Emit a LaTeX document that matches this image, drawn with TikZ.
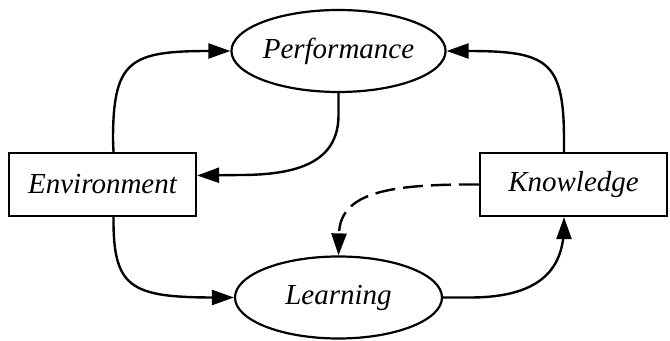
\documentclass[tikz,border=0pt]{standalone}
\usepackage{fontspec}
\setmainfont{Liberation Serif}
\usetikzlibrary{shapes.geometric,arrows.meta}
\begin{document}
\begin{tikzpicture}[x=0.5pt,y=-0.5pt,
  font=\fontsize{14.5}{16}\selectfont\itshape,
  oval/.style={ellipse,draw,line width=1.1pt,minimum width=103.5pt,minimum height=41pt,inner sep=0pt},
  box/.style={rectangle,draw,line width=1.1pt,minimum width=93.5pt,minimum height=31.5pt,inner sep=0pt},
  conn/.style={line width=1.2pt,-{Triangle[length=11pt,width=7.5pt]}},
  dashconn/.style={conn,dash pattern=on 10pt off 4pt}]
\useasboundingbox (0,0) rectangle (670,341);
\node[oval] (perf) at (338.5,51) {Performance};
\node[oval] (learn) at (338.5,297.5) {Learning};
\node[box] (env) at (102.5,184.5) {Environment};
\node[box] (know) at (573.5,184.5) {Knowledge};
\coordinate (envN) at ([xshift=5.5pt]env.north);
\coordinate (envS) at ([xshift=5.5pt]env.south);
\coordinate (knowN) at ([xshift=-4.75pt]know.north);
\coordinate (knowS) at ([xshift=-4.75pt]know.south);
\coordinate (envE) at ([yshift=4.5pt]env.east);
% Environment -> Performance
\draw[conn] (envN) -- (113,140) .. controls (113,60) and (130,51) .. (210,51) -- (perf.west);
% Environment -> Learning
\draw[conn] (envS) .. controls (113,287) and (130,297) .. (210,297.5) -- (learn.west);
% Knowledge -> Performance
\draw[conn] (knowN) -- (564,140) .. controls (564,60) and (547,51) .. (467,51) -- (perf.east);
% Learning -> Knowledge
\draw[conn] (learn.east) -- (470,297.5) .. controls (545,297.5) and (564,265) .. (564,225) -- (knowS);
% Performance -> Environment
\draw[conn] (perf.south) -- (338.5,115) .. controls (338.5,162) and (298,175) .. (240,175) -- (envE);
% Knowledge -> Learning (dashed)
\draw[dashconn] (know.west) .. controls (390,184) and (340,192) .. (learn.north);
\end{tikzpicture}
\end{document}
